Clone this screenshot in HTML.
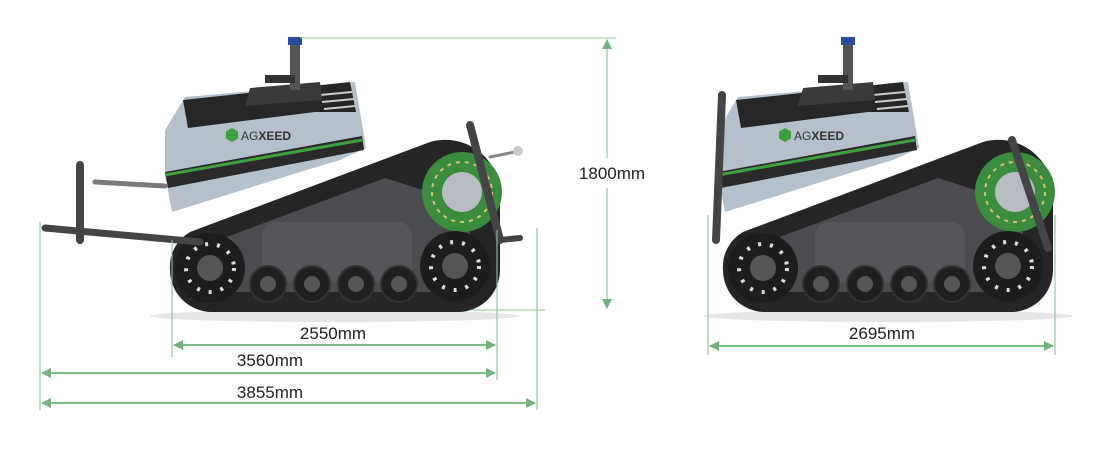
<!DOCTYPE html>
<html><head><meta charset="utf-8"><style>
html,body{margin:0;padding:0;background:#fff;width:1100px;height:450px;overflow:hidden}
svg{display:block}
text{font-family:"Liberation Sans",sans-serif;fill:#222}
</style></head><body>
<svg width="1100" height="450" viewBox="0 0 1100 450">
<defs>
<marker id="ah" markerWidth="10" markerHeight="10" refX="9" refY="5" orient="auto-start-reverse" markerUnits="userSpaceOnUse">
<path d="M0,0 L10,5 L0,10 Z" fill="#72b37f"/></marker>
<g id="robot">
<ellipse cx="335" cy="316" rx="185" ry="6" fill="#e6e6e6"/>
<path d="M190,232 L430,142 A55,55 0 0 1 500,200 L500,270 A42,42 0 0 1 458,312 L212,312 A42,42 0 0 1 170,270 A40,40 0 0 1 190,232 Z" fill="#252525"/>
<path d="M205,245 L385,178 L470,205 L470,292 L230,292 Z" fill="#4b4c50"/>
<rect x="262" y="222" width="150" height="60" rx="14" fill="#55565a"/>
<circle cx="462" cy="192" r="40" fill="#3b8c3e"/>
<circle cx="462" cy="192" r="30" fill="none" stroke="#d8c07a" stroke-width="2" stroke-dasharray="4 5"/>
<circle cx="462" cy="192" r="20" fill="#b9bcc2"/>
<circle cx="210" cy="268" r="35" fill="#1d1d1d"/>
<circle cx="210" cy="268" r="24" fill="none" stroke="#ddd" stroke-width="4" stroke-dasharray="3 9"/>
<circle cx="210" cy="268" r="13" fill="#555"/>
<circle cx="455" cy="266" r="35" fill="#1d1d1d"/>
<circle cx="455" cy="266" r="24" fill="none" stroke="#ddd" stroke-width="4" stroke-dasharray="3 9"/>
<circle cx="455" cy="266" r="13" fill="#555"/>
<g fill="#1f1f1f" stroke="#333" stroke-width="2">
<circle cx="268" cy="284" r="18"/><circle cx="312" cy="284" r="18"/><circle cx="356" cy="284" r="18"/><circle cx="399" cy="284" r="18"/></g>
<g fill="#555"><circle cx="268" cy="284" r="8"/><circle cx="312" cy="284" r="8"/><circle cx="356" cy="284" r="8"/><circle cx="399" cy="284" r="8"/></g>
<path d="M165,130 L185,97 L355,82 L366,148 L340,160 L300,172 L172,212 L165,175 Z" fill="#b4c0cc"/>
<path d="M183,100 L350,82 L356,112 L315,112 L188,128 Z" fill="#262626"/>
<path d="M320,95 L352,92 M322,102 L354,99 M324,109 L355,106" stroke="#ccc" stroke-width="2"/>
<path d="M165,172 L362,136 L364,150 L168,188 Z" fill="#2a2a2a"/>
<path d="M165,175 L362,140" stroke="#3da03f" stroke-width="3"/>
<path d="M245,106 L250,88 L320,82 L322,100 Z" fill="#3a3a3a"/>
<rect x="290" y="44" width="10" height="46" fill="#555"/>
<rect x="288" y="37" width="14" height="8" fill="#2b4c9a"/>
<rect x="265" y="75" width="30" height="8" fill="#333"/>
<polygon points="232,128 238,131.5 238,138.5 232,142 226,138.5 226,131.5" fill="#3da03f"/>
<text x="241" y="140" font-size="12" style="fill:#333">AG<tspan font-weight="bold">XEED</tspan></text>
</g>
</defs>

<use href="#robot"/>
<g stroke="#444446" stroke-linecap="round" fill="none">
<line x1="80" y1="165" x2="80" y2="240" stroke-width="8"/>
<line x1="45" y1="228" x2="200" y2="242" stroke-width="7"/>
<line x1="95" y1="182" x2="165" y2="186" stroke-width="5" stroke="#7a7a7a"/>
<line x1="470" y1="125" x2="500" y2="240" stroke-width="8"/>
<line x1="500" y1="240" x2="520" y2="238" stroke-width="6"/>
<line x1="490" y1="157" x2="515" y2="152" stroke-width="3" stroke="#888"/>
</g>
<circle cx="518" cy="151" r="5" fill="#ccc"/>

<use href="#robot" transform="translate(553,0)"/>
<g stroke="#444446" stroke-linecap="round" fill="none">
<line x1="722" y1="95" x2="716" y2="240" stroke-width="8"/>
<line x1="1012" y1="140" x2="1048" y2="248" stroke-width="8"/>
</g>

<g stroke="#8cc497" stroke-width="1.1" fill="none">
<line x1="300" y1="38" x2="616" y2="38"/>
<line x1="470" y1="310" x2="545" y2="310"/>
<line x1="607" y1="40" x2="607" y2="158" marker-start="url(#ah)"/>
<line x1="607" y1="188" x2="607" y2="308" marker-end="url(#ah)"/>
<line x1="172" y1="240" x2="172" y2="357"/>
<line x1="497" y1="230" x2="497" y2="380"/>
<line x1="40" y1="222" x2="40" y2="410"/>
<line x1="537" y1="228" x2="537" y2="410"/>
<line x1="708" y1="215" x2="708" y2="355"/>
<line x1="1055" y1="215" x2="1055" y2="355"/>
</g>
<g stroke="#7dbb88" stroke-width="2" fill="none">
<line x1="174" y1="345" x2="495" y2="345" marker-start="url(#ah)" marker-end="url(#ah)"/>
<line x1="42" y1="373" x2="495" y2="373" marker-start="url(#ah)" marker-end="url(#ah)"/>
<line x1="42" y1="403" x2="535" y2="403" marker-start="url(#ah)" marker-end="url(#ah)"/>
<line x1="710" y1="346" x2="1053" y2="346" marker-start="url(#ah)" marker-end="url(#ah)"/>
</g>
<g font-size="17" text-anchor="middle">
<text x="612" y="179">1800mm</text>
<text x="333" y="339">2550mm</text>
<text x="270" y="366">3560mm</text>
<text x="270" y="398">3855mm</text>
<text x="882" y="339">2695mm</text>
</g>
</svg>
</body></html>
